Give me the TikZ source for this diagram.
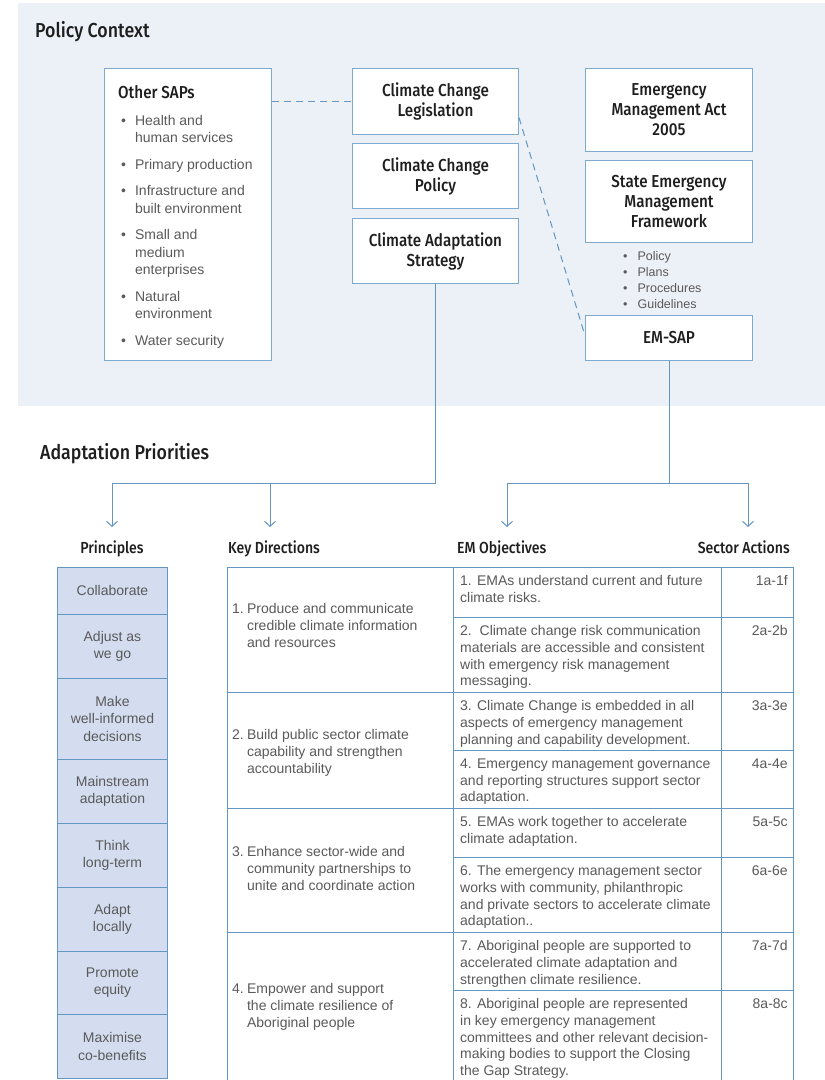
\documentclass[tikz,border=0pt]{standalone}
\usepackage{fontspec}
\setmainfont{Liberation Sans}
\newfontfamily\headfont{Fira Sans Medium}[FakeStretch=0.88]
\usetikzlibrary{arrows.meta,calc}
\definecolor{panelc}{HTML}{ECF0F7}
\definecolor{bcol}{HTML}{7DAAD0}
\definecolor{lcol}{HTML}{6396C3}
\definecolor{pfill}{HTML}{D3DDEF}
\definecolor{txtc}{HTML}{5A5A5A}
\definecolor{headc}{HTML}{1E1E1E}
\tikzset{
  box/.style={draw=bcol, fill=white, line width=1pt, inner sep=0pt, anchor=north west},
  hbox/.style={box, font=\headfont\fontsize{17.3}{20}\selectfont, text=headc, align=center},
  htitle/.style={font=\headfont\fontsize{20.2}{23}\selectfont, text=headc, inner sep=0pt},
  hcol/.style={font=\headfont\fontsize{16}{19}\selectfont, text=headc, inner sep=0pt},
  body/.style={font=\fontsize{14}{16.7}\selectfont, text=txtc, inner sep=0pt},
  pcell/.style={draw=lcol, fill=pfill, line width=0.9pt, inner sep=0pt, anchor=north west,
    minimum width=110pt, font=\fontsize{14}{17.3}\selectfont, text=txtc, align=center},
  tcell/.style={draw=lcol, fill=white, line width=0.9pt, inner sep=0pt, anchor=north west},
  link/.style={draw=lcol, line width=1pt},
  arr/.style={link, -{Straight Barb[length=5pt,width=11pt]}},
  dlink/.style={draw=lcol, line width=1pt, dash pattern=on 7pt off 5pt},
}
\newcommand{\kdtab}[4]{\begin{tabular}{@{}l@{\hspace{3.2pt}}l@{}}#1 & #2\\ & #3\\ & #4\end{tabular}}
\begin{document}
\begin{tikzpicture}[x=1pt,y=-1pt]
\useasboundingbox (0,0) rectangle (825,1080);
\clip (0,0) rectangle (825,1080);
\fill[white] (0,0) rectangle (825,1080);
\fill[panelc] (18,3) rectangle (825,406);

% ---------- Policy Context ----------
\node[htitle, anchor=base west] (tpc) at (35,37) {Policy Context};

\node[box, minimum width=167pt, minimum height=292pt] (saps) at (104,68) {};
\node[hcol, font=\headfont\fontsize{17.3}{20}\selectfont, anchor=west] (sapst) at (118,92) {Other SAPs};
\node[body, anchor=north west, font=\fontsize{14}{17.6}\selectfont] (sapsl) at (121,112.5) {%
\begin{tabular}{@{}l@{\hspace{9pt}}l@{}}
\textbullet & Health and\\
 & human services\\[8.8pt]
\textbullet & Primary production\\[8.8pt]
\textbullet & Infrastructure and\\
 & built environment\\[8.8pt]
\textbullet & Small and\\
 & medium\\
 & enterprises\\[8.8pt]
\textbullet & Natural\\
 & environment\\[8.8pt]
\textbullet & Water security
\end{tabular}};

\node[hbox, minimum width=166pt, minimum height=66pt] (leg) at (352,68) {Climate Change\\Legislation};
\node[hbox, minimum width=166pt, minimum height=65pt] (pol) at (352,143) {Climate Change\\Policy};
\node[hbox, minimum width=166pt, minimum height=65pt] (strat) at (352,218) {Climate Adaptation\\Strategy};

\node[hbox, minimum width=167pt, minimum height=83pt] (ema) at (585,68) {Emergency\\Management Act\\2005};
\node[hbox, minimum width=167pt, minimum height=82pt] (semf) at (585,160) {State Emergency\\Management\\Framework};
\node[body, anchor=north west, font=\fontsize{12.5}{16}\selectfont] (semfl) at (623,249.5) {%
\begin{tabular}{@{}l@{\hspace{10pt}}l@{}}
\textbullet & Policy\\
\textbullet & Plans\\
\textbullet & Procedures\\
\textbullet & Guidelines
\end{tabular}};
\node[hbox, minimum width=167pt, minimum height=45pt] (emsap) at (585,315) {EM-SAP};

\draw[dlink] (saps.east |- leg.west) -- (leg.west);
\draw[dlink] ($(leg.north east)!0.74!(leg.south east)$) -- ($(emsap.north west)!0.45!(emsap.south west)$);

% ---------- Adaptation Priorities ----------
\node[htitle, anchor=base west] (tap) at (40,459) {Adaptation Priorities};

\node[hcol, anchor=base] (hprin) at (112,553) {Principles};
\node[hcol, anchor=base west] (hkd) at (228,553) {Key Directions};
\node[hcol, anchor=base west] (hobj) at (457,553) {EM Objectives};
\node[hcol, anchor=base east] (hsa) at (790,553) {Sector Actions};

\coordinate (j1) at (strat.south |- 0,483);
\coordinate (j2) at (emsap.south |- 0,483);
\coordinate (tp) at (112,527);
\coordinate (tk) at (270,527);
\coordinate (to) at (507,527);
\coordinate (ts) at (748,527);
\draw[link] (strat.south) -- (j1);
\draw[arr] (j1) -| (tp);
\draw[arr] (tk |- j1) -- (tk);
\draw[link] (emsap.south) -- (j2);
\draw[arr] (j2) -| (to);
\draw[arr] (j2) -| (ts);

% Principles column
\node[pcell, minimum height=47pt] (p1) at (57,567) {Collaborate};
\node[pcell, minimum height=64pt] (p2) at (57,614) {Adjust as\\we go};
\node[pcell, minimum height=81pt] (p3) at (57,678) {Make\\well-informed\\decisions};
\node[pcell, minimum height=64pt] (p4) at (57,759) {Mainstream\\adaptation};
\node[pcell, minimum height=64pt] (p5) at (57,823) {Think\\long-term};
\node[pcell, minimum height=64pt] (p6) at (57,887) {Adapt\\locally};
\node[pcell, minimum height=63pt] (p7) at (57,951) {Promote\\equity};
\node[pcell, minimum height=64pt] (p8) at (57,1014) {Maximise\\co-benefits};

% Key directions
\node[tcell, minimum width=226pt, minimum height=125pt] (k1) at (227,567) {};
\node[tcell, minimum width=226pt, minimum height=116pt] (k2) at (227,692) {};
\node[tcell, minimum width=226pt, minimum height=124pt] (k3) at (227,808) {};
\node[tcell, minimum width=226pt, minimum height=160pt] (k4) at (227,932) {};
\node[body, anchor=west] (k1t) at (232,627) {\kdtab{1.}{Produce and communicate}{credible climate information}{and resources}};
\node[body, anchor=west] (k2t) at (232,753) {\kdtab{2.}{Build public sector climate}{capability and strengthen}{accountability}};
\node[body, anchor=west] (k3t) at (232,870) {\kdtab{3.}{Enhance sector-wide and}{community partnerships to}{unite and coordinate action}};
\node[body, anchor=west] (k4t) at (232,1007) {\kdtab{4.}{Empower and support}{the climate resilience of}{Aboriginal people}};

% Objectives and sector actions
\foreach \n/\t/\h in {1/567/50, 2/617/75, 3/692/58, 4/750/58, 5/808/49, 6/857/75, 7/932/58, 8/990/100}{
  \node[tcell, minimum width=268pt, minimum height=\h pt] (o\n) at (453,\t) {};
  \node[tcell, minimum width=72pt, minimum height=\h pt] (s\n) at (721,\t) {};
}
\tikzset{otext/.style={body, anchor=north west, align=left}, stext/.style={body, anchor=north east, align=right}}
\node[otext] (o1t) at ($(o1.north west)+(7,8.5)$) {1. EMAs understand current and future\\climate risks.};
\node[otext] (o2t) at ($(o2.north west)+(7,8.5)$) {2.\ \ Climate change risk communication\\materials are accessible and consistent\\with emergency risk management\\messaging.};
\node[otext] (o3t) at ($(o3.north west)+(7,8.5)$) {3. Climate Change is embedded in all\\aspects of emergency management\\planning and capability development.};
\node[otext] (o4t) at ($(o4.north west)+(7,8.5)$) {4. Emergency management governance\\and reporting structures support sector\\adaptation.};
\node[otext] (o5t) at ($(o5.north west)+(7,8.5)$) {5. EMAs work together to accelerate\\climate adaptation.};
\node[otext] (o6t) at ($(o6.north west)+(7,8.5)$) {6. The emergency management sector\\works with community, philanthropic\\and private sectors to accelerate climate\\adaptation..};
\node[otext] (o7t) at ($(o7.north west)+(7,8.5)$) {7. Aboriginal people are supported to\\accelerated climate adaptation and\\strengthen climate resilience.};
\node[otext] (o8t) at ($(o8.north west)+(7,8.5)$) {8. Aboriginal people are represented\\in key emergency management\\committees and other relevant decision-\\making bodies to support the Closing\\the Gap Strategy.};
\node[stext] (s1t) at ($(s1.north east)+(-6,8.5)$) {1a-1f};
\node[stext] (s2t) at ($(s2.north east)+(-6,8.5)$) {2a-2b};
\node[stext] (s3t) at ($(s3.north east)+(-6,8.5)$) {3a-3e};
\node[stext] (s4t) at ($(s4.north east)+(-6,8.5)$) {4a-4e};
\node[stext] (s5t) at ($(s5.north east)+(-6,8.5)$) {5a-5c};
\node[stext] (s6t) at ($(s6.north east)+(-6,8.5)$) {6a-6e};
\node[stext] (s7t) at ($(s7.north east)+(-6,8.5)$) {7a-7d};
\node[stext] (s8t) at ($(s8.north east)+(-6,8.5)$) {8a-8c};
\end{tikzpicture}
\end{document}
